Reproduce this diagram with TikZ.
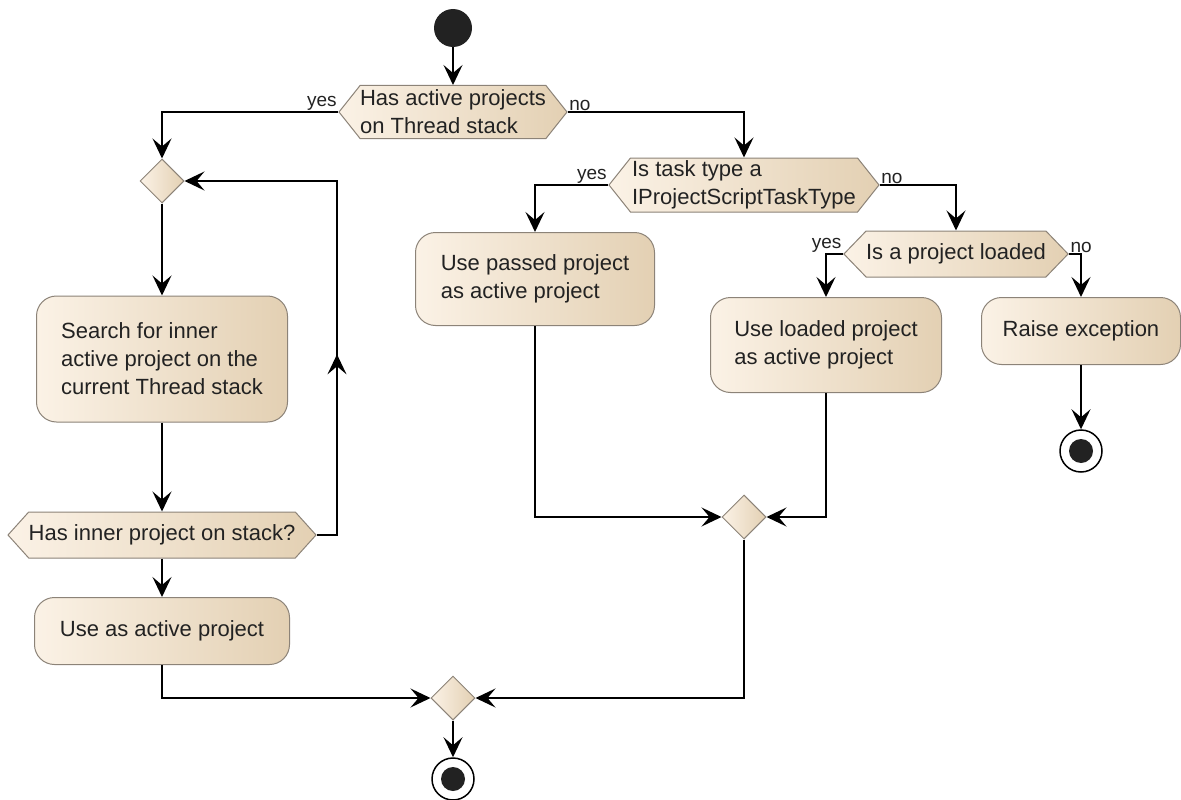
\documentclass[tikz,border=0pt]{standalone}
\usepackage{fontspec}
\setmainfont{Liberation Sans}
\usetikzlibrary{shapes.symbols, shapes.geometric, arrows.meta, decorations.markings}
\definecolor{actlight}{HTML}{FBF2E6}
\definecolor{actdark}{HTML}{E3D0B3}
\definecolor{actborder}{HTML}{8C8378}
\definecolor{dotgray}{HTML}{222222}

\begin{document}
\begin{tikzpicture}[x=1pt, y=-1pt,
font=\fontsize{22}{28}\selectfont,
flow/.style = {draw=black, line width=1.5pt, -{Stealth[length=20pt, width=19pt, inset=8pt]}},
act/.style = {rectangle, rounded corners=20pt, draw=actborder, line width=1pt, left color=actlight, right color=actdark, align=left, text=dotgray, inner sep=0pt},
decision/.style = {signal, signal to=west and east, signal pointer angle=#1, draw=actborder, line width=1pt, left color=actlight, right color=actdark, align=left, text=dotgray, inner sep=0pt},
merge/.style = {diamond, minimum width=44pt, minimum height=44pt, inner sep=0pt, draw=actborder, line width=1pt, left color=actlight, right color=actdark},
startdot/.style = {circle, fill=dotgray, minimum size=38pt, inner sep=0pt},
enddot/.style = {circle, draw=black, line width=1.5pt, fill=white, minimum size=42pt, inner sep=0pt, path picture={\fill[dotgray] (path picture bounding box.center) circle (12pt);}},
lbl/.style = {font=\fontsize{19}{22}\selectfont, text=dotgray, inner sep=1pt}
]
  \useasboundingbox (0,0) rectangle (1181,800);

  % left branch
  \node[startdot] (start) at (453,28) {};
  \node[decision=103, minimum width=224pt, minimum height=53pt] (hasact) at (453,112) {Has active projects\\on Thread stack};
  \node[merge] (loopin) at (162,181) {};
  \node[act, minimum width=251pt, minimum height=126pt] (search) at (162,359) {Search for inner\\active project on the\\current Thread stack};
  \node[decision=96, minimum width=302pt, minimum height=46pt] (hasinner) at (162,535) {Has inner project on stack?};
  \node[act, minimum width=255pt, minimum height=67pt] (useas) at (162,631) {Use as active project};
  \node[merge] (mergeall) at (453,698) {};
  \node[enddot] (endok) at (453,779) {};
  \coordinate (loopback) at (337,535);

  % right branch
  \node[decision=103, minimum width=270pt, minimum height=54pt] (istask) at (744,185) {Is task type a\\IProjectScriptTaskType};
  \node[act, minimum width=239pt, minimum height=93pt] (passed) at (535,279) {Use passed project\\as active project};
  \node[decision=92, minimum width=218pt, minimum height=46pt] (isloaded) at (956,254) {Is a project loaded};
  \node[act, minimum width=231pt, minimum height=95pt] (loaded) at (826,345) {Use loaded project\\as active project};
  \node[act, minimum width=199pt, minimum height=67pt] (raise) at (1081,331) {Raise exception};
  \node[enddot] (endfail) at (1081,451) {};
  \node[merge] (mergeuse) at (744,517) {};

  \draw[flow] (start) -- (hasact.north);
  \draw[flow] (hasact.west) node[lbl, anchor=south east] (yes1) {yes} -| (loopin.north);
  \draw[flow] (loopin.south) -- (search.north);
  \draw[flow] (search.south) -- (hasinner.north);
  \draw[flow, postaction=decorate, decoration={markings, mark=at position 201pt with {\arrow{Stealth[length=20pt, width=19pt, inset=8pt]}}}] (hasinner.east) -- (loopback) |- (loopin.east);
  \draw[flow] (hasinner.south) -- (useas.north);
  \draw[flow] (useas.south) |- (mergeall.west);
  \draw[flow] (mergeall.south) -- (endok.north);

  \draw[flow] (hasact.east) node[lbl, anchor=south west] (no1) {no} -| (istask.north);
  \draw[flow] (istask.west) node[lbl, anchor=south east] (yes2) {yes} -| (passed.north);
  \draw[flow] (istask.east) node[lbl, anchor=south west] (no2) {no} -| (isloaded.north);
  \draw[flow] (isloaded.west) node[lbl, anchor=south east] (yes3) {yes} -| (loaded.north);
  \draw[flow] (isloaded.east) node[lbl, anchor=south west] (no3) {no} -| (raise.north);
  \draw[flow] (raise.south) -- (endfail.north);
  \draw[flow] (passed.south) |- (mergeuse.west);
  \draw[flow] (loaded.south) |- (mergeuse.east);
  \draw[flow] (mergeuse.south) |- (mergeall.east);
\end{tikzpicture}
\end{document}
